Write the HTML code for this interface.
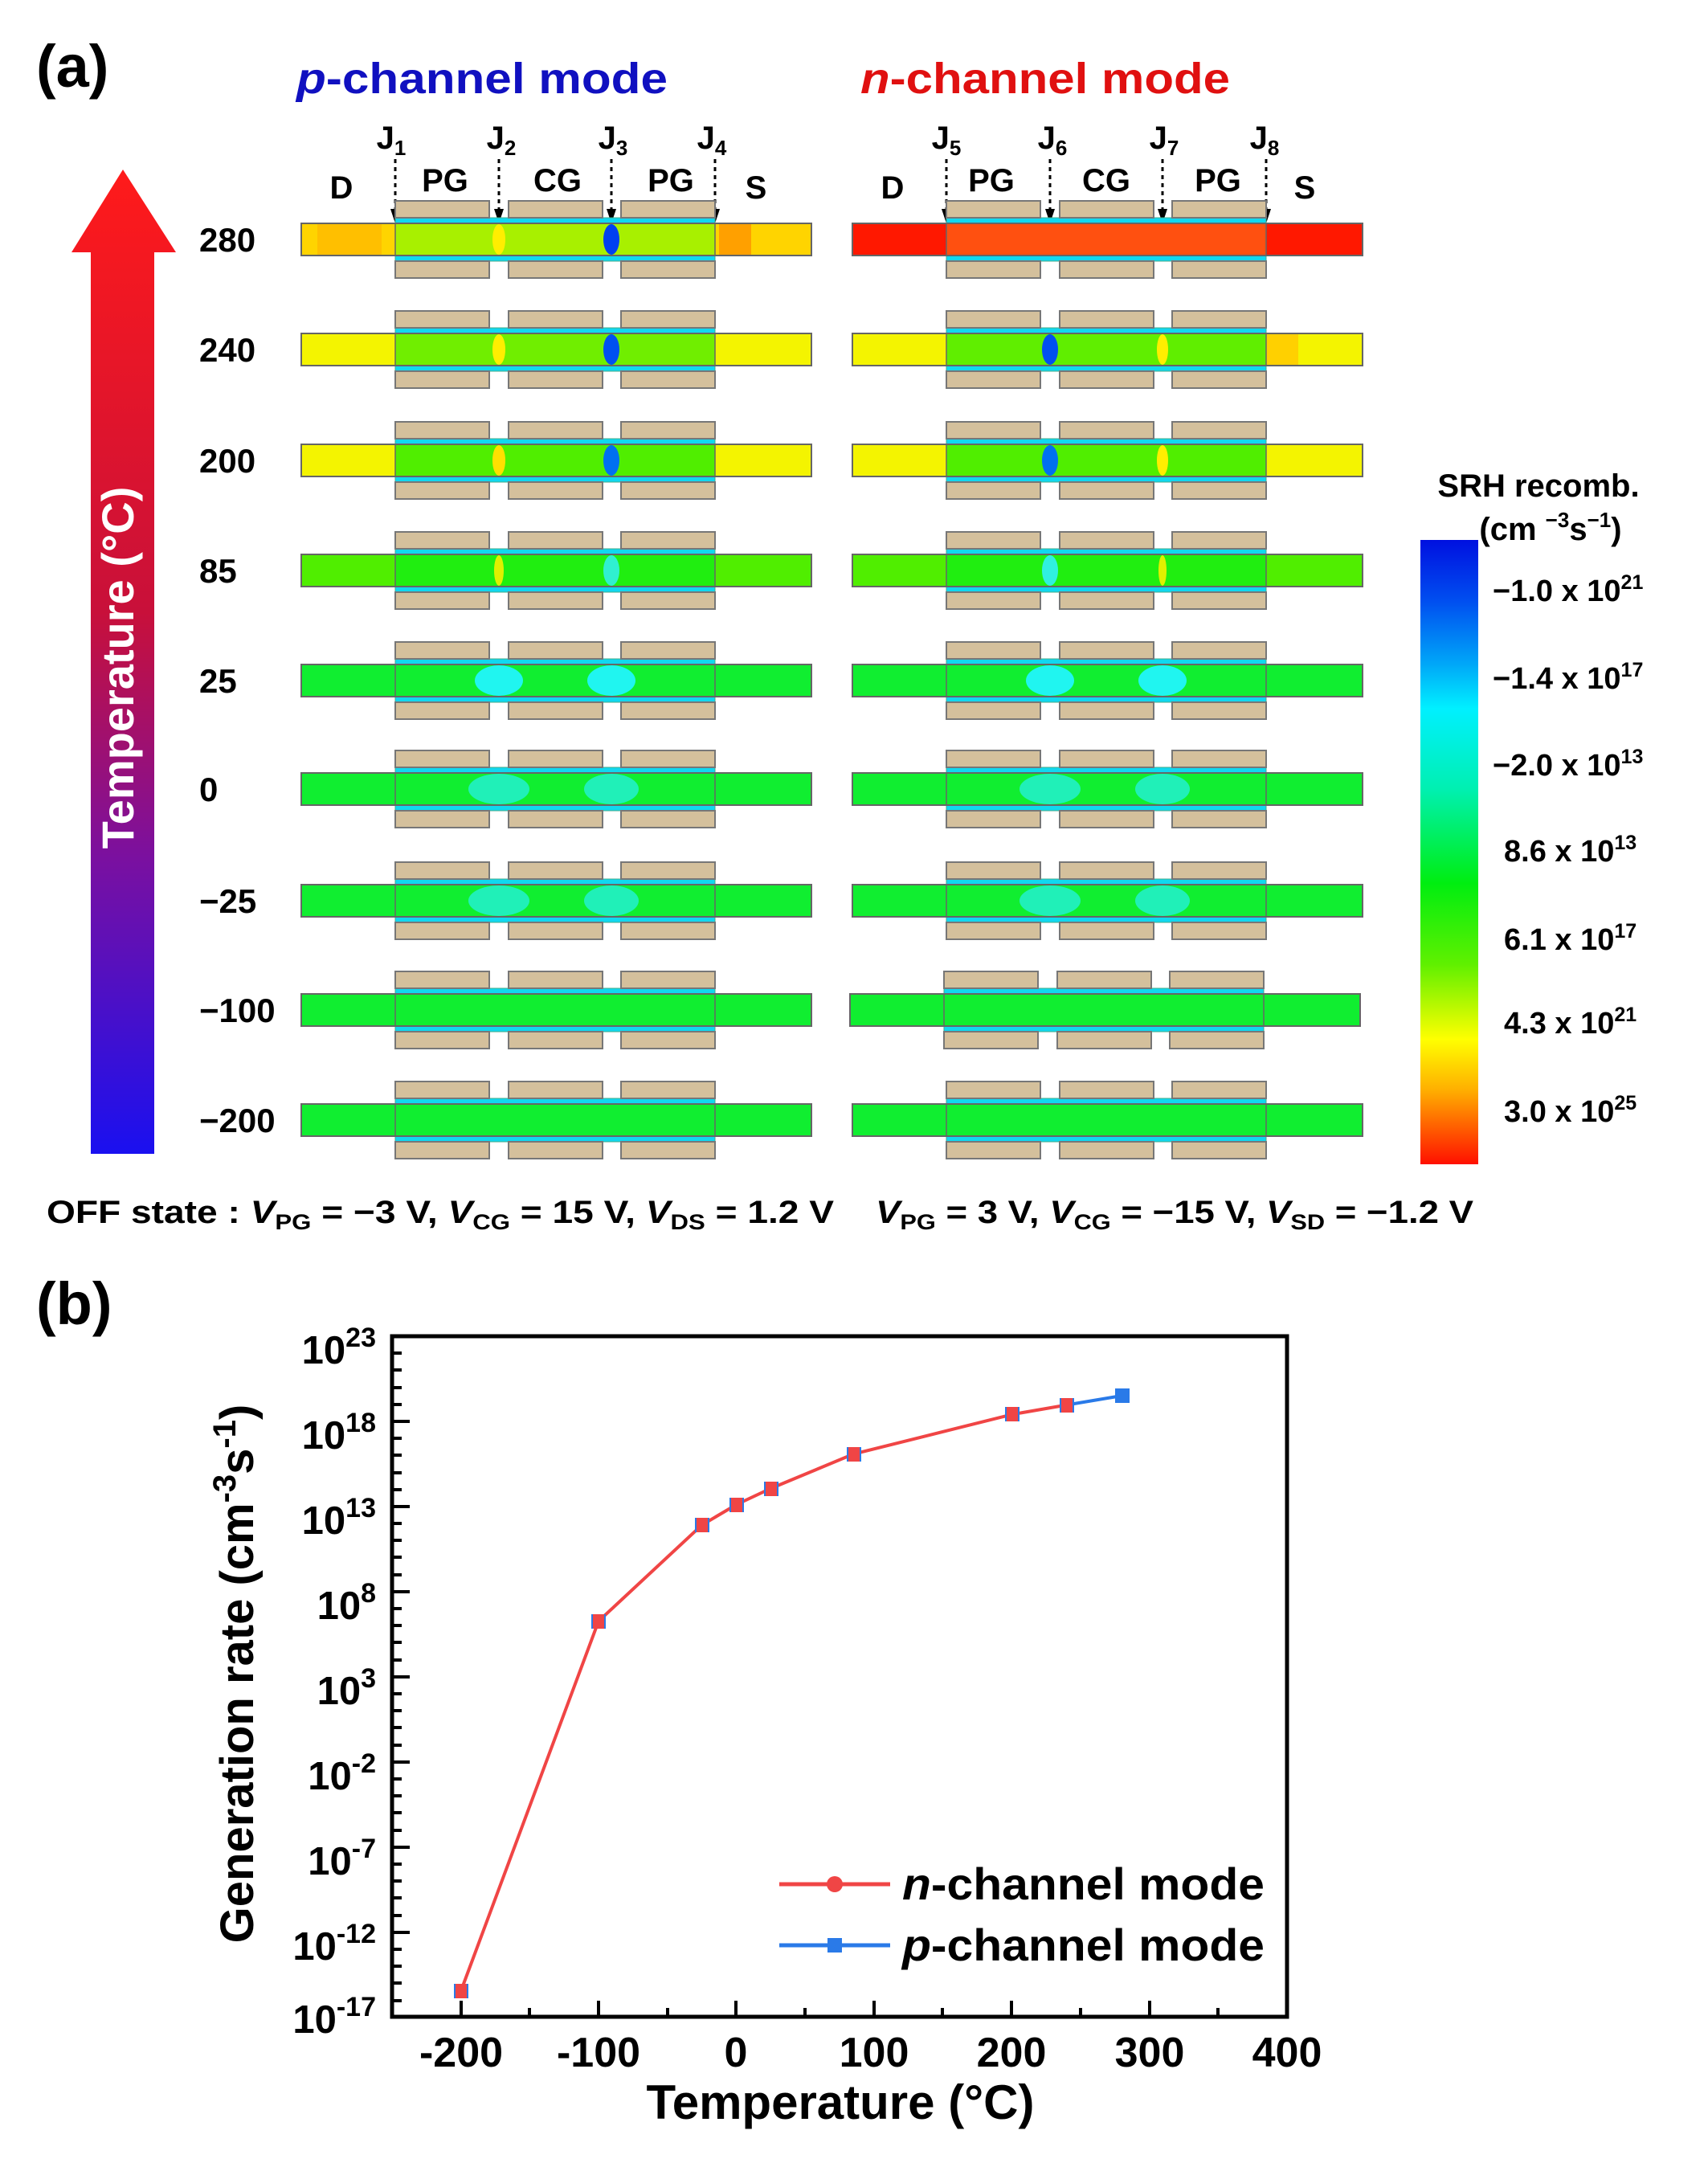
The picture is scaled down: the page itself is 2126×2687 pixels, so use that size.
<!DOCTYPE html>
<html><head><meta charset="utf-8"><style>
html,body{margin:0;padding:0;background:#fff}
svg{display:block}
text{font-family:"Liberation Sans",sans-serif;font-weight:bold}
</style></head><body>
<svg width="2126" height="2687" viewBox="0 0 2126 2687" xmlns="http://www.w3.org/2000/svg">
<defs>
<linearGradient id="arr" x1="0" y1="0" x2="0" y2="1">
<stop offset="0" stop-color="#ff1a1a"/><stop offset="0.45" stop-color="#c8103a"/><stop offset="0.7" stop-color="#7a10a0"/><stop offset="1" stop-color="#1a10f0"/>
</linearGradient>
<linearGradient id="cb" x1="0" y1="0" x2="0" y2="1">
<stop offset="0" stop-color="#0010e0"/><stop offset="0.1" stop-color="#0050f0"/><stop offset="0.2" stop-color="#00a8f8"/><stop offset="0.27" stop-color="#00f0ff"/><stop offset="0.4" stop-color="#00f0b0"/><stop offset="0.55" stop-color="#00ee10"/><stop offset="0.68" stop-color="#60f000"/><stop offset="0.8" stop-color="#ffff00"/><stop offset="0.88" stop-color="#ffb000"/><stop offset="1" stop-color="#ff1000"/>
</linearGradient>
<g id="gates">
<rect x="117" y="-27" width="398" height="7" fill="#10d8f0" stroke="#4a8" stroke-width="1"/>
<rect x="117" y="20" width="398" height="7" fill="#10d8f0" stroke="#4a8" stroke-width="1"/>
<g fill="#d4c09c" stroke="#777" stroke-width="2">
<rect x="117" y="-48" width="117" height="21"/><rect x="258" y="-48" width="117" height="21"/><rect x="398" y="-48" width="117" height="21"/>
<rect x="117" y="27" width="117" height="21"/><rect x="258" y="27" width="117" height="21"/><rect x="398" y="27" width="117" height="21"/>
</g>
<rect x="0" y="-20" width="635" height="40" fill="none" stroke="#666" stroke-width="2"/>
<line x1="117" y1="-20" x2="117" y2="20" stroke="#666" stroke-width="1.5"/>
<line x1="515" y1="-20" x2="515" y2="20" stroke="#666" stroke-width="1.5"/>
</g>
<g id="green"><rect x="0" y="-20" width="635" height="40" fill="#10ee30"/></g>
<g id="cyanblobs"><ellipse cx="246" cy="0" rx="30" ry="19" fill="#20f5f0"/><ellipse cx="386" cy="0" rx="30" ry="19" fill="#20f5f0"/></g>
<g id="cyanblobs2"><ellipse cx="246" cy="0" rx="38" ry="19" fill="#20f0b8"/><ellipse cx="386" cy="0" rx="34" ry="19" fill="#20f0b8"/></g>
</defs>

<text x="45" y="108" font-size="74">(a)</text>
<text x="369" y="116" font-size="54" fill="#1010c0" textLength="462" lengthAdjust="spacingAndGlyphs"><tspan font-style="italic">p</tspan>-channel mode</text>
<text x="1071" y="116" font-size="54" fill="#e01010" textLength="460" lengthAdjust="spacingAndGlyphs"><tspan font-style="italic">n</tspan>-channel mode</text>

<polygon points="153,211 219,314 192,314 192,1436 113,1436 113,314 89,314" fill="url(#arr)"/>
<text transform="translate(166,831) rotate(-90)" text-anchor="middle" font-size="56" fill="#fff">Temperature (°C)</text>

<g font-size="40" text-anchor="middle">
<text x="487" y="185">J<tspan font-size="26" dy="8">1</tspan></text>
<text x="624" y="185">J<tspan font-size="26" dy="8">2</tspan></text>
<text x="763" y="185">J<tspan font-size="26" dy="8">3</tspan></text>
<text x="886" y="185">J<tspan font-size="26" dy="8">4</tspan></text>
<text x="1178" y="185">J<tspan font-size="26" dy="8">5</tspan></text>
<text x="1310" y="185">J<tspan font-size="26" dy="8">6</tspan></text>
<text x="1449" y="185">J<tspan font-size="26" dy="8">7</tspan></text>
<text x="1574" y="185">J<tspan font-size="26" dy="8">8</tspan></text>
<text x="425" y="247">D</text><text x="554" y="238">PG</text><text x="694" y="238">CG</text><text x="835" y="238">PG</text><text x="941" y="247">S</text>
<text x="1111" y="247">D</text><text x="1234" y="238">PG</text><text x="1377" y="238">CG</text><text x="1516" y="238">PG</text><text x="1624" y="247">S</text>
</g>
<g stroke="#000" stroke-width="3" stroke-dasharray="5,5">
<line x1="492" y1="198" x2="492" y2="262"/><line x1="621" y1="198" x2="621" y2="262"/><line x1="761" y1="198" x2="761" y2="262"/><line x1="890" y1="198" x2="890" y2="262"/>
<line x1="1178" y1="198" x2="1178" y2="262"/><line x1="1307" y1="198" x2="1307" y2="262"/><line x1="1447" y1="198" x2="1447" y2="262"/><line x1="1576" y1="198" x2="1576" y2="262"/>
</g>
<g fill="#000">
<polygon points="486,260 498,260 492,278"/><polygon points="615,260 627,260 621,278"/><polygon points="755,260 767,260 761,278"/><polygon points="884,260 896,260 890,278"/>
<polygon points="1172,260 1184,260 1178,278"/><polygon points="1301,260 1313,260 1307,278"/><polygon points="1441,260 1453,260 1447,278"/><polygon points="1570,260 1582,260 1576,278"/>
</g>

<g font-size="42" text-anchor="start">
<text x="248" y="313">280</text><text x="248" y="450">240</text><text x="248" y="588">200</text><text x="248" y="725">85</text><text x="248" y="862">25</text><text x="248" y="997">0</text><text x="248" y="1136">−25</text><text x="248" y="1272">−100</text><text x="248" y="1409">−200</text>
</g>

<g transform="translate(375,298)">
<rect x="0" y="-20" width="117" height="40" fill="#ffd400"/><rect x="20" y="-20" width="80" height="40" fill="#ffbf00"/>
<rect x="515" y="-20" width="120" height="40" fill="#ffd400"/><rect x="520" y="-20" width="40" height="40" fill="#ffa000"/>
<rect x="117" y="-20" width="398" height="40" fill="#a8f000"/>
<ellipse cx="246" cy="0" rx="8" ry="19" fill="#ffee00"/><ellipse cx="386" cy="0" rx="10" ry="19" fill="#0040f0"/>
<use href="#gates"/></g>
<g transform="translate(375,435)">
<rect x="0" y="-20" width="117" height="40" fill="#f4f400"/><rect x="515" y="-20" width="120" height="40" fill="#f4f400"/>
<rect x="117" y="-20" width="398" height="40" fill="#70ee00"/>
<ellipse cx="246" cy="0" rx="8" ry="19" fill="#ffee00"/><ellipse cx="386" cy="0" rx="10" ry="19" fill="#0050f0"/>
<use href="#gates"/></g>
<g transform="translate(375,573)">
<rect x="0" y="-20" width="117" height="40" fill="#f4f400"/><rect x="515" y="-20" width="120" height="40" fill="#f4f400"/>
<rect x="117" y="-20" width="398" height="40" fill="#50ee00"/>
<ellipse cx="246" cy="0" rx="8" ry="19" fill="#ffe000"/><ellipse cx="386" cy="0" rx="10" ry="19" fill="#0070f0"/>
<use href="#gates"/></g>
<g transform="translate(375,710)">
<rect x="0" y="-20" width="635" height="40" fill="#50ee00"/>
<rect x="117" y="-20" width="398" height="40" fill="#20ee10"/>
<ellipse cx="246" cy="0" rx="6" ry="19" fill="#e0f000"/><ellipse cx="386" cy="0" rx="10" ry="19" fill="#30f0d0"/>
<use href="#gates"/></g>
<g transform="translate(375,847)"><use href="#green"/><use href="#cyanblobs"/><use href="#gates"/></g>
<g transform="translate(375,982)"><use href="#green"/><use href="#cyanblobs2"/><use href="#gates"/></g>
<g transform="translate(375,1121)"><use href="#green"/><use href="#cyanblobs2"/><use href="#gates"/></g>
<g transform="translate(375,1257)"><use href="#green"/><use href="#gates"/></g>
<g transform="translate(375,1394)"><use href="#green"/><use href="#gates"/></g>

<g transform="translate(1061,298)">
<rect x="0" y="-20" width="635" height="40" fill="#ff1800"/>
<rect x="117" y="-20" width="398" height="40" fill="#ff5010"/>
<use href="#gates"/></g>
<g transform="translate(1061,435)">
<rect x="0" y="-20" width="117" height="40" fill="#f4f400"/><rect x="515" y="-20" width="120" height="40" fill="#f4f400"/><rect x="515" y="-20" width="40" height="40" fill="#ffd000"/>
<rect x="117" y="-20" width="398" height="40" fill="#60ee00"/>
<ellipse cx="246" cy="0" rx="10" ry="19" fill="#0050f0"/><ellipse cx="386" cy="0" rx="7" ry="19" fill="#ffee00"/>
<use href="#gates"/></g>
<g transform="translate(1061,573)">
<rect x="0" y="-20" width="117" height="40" fill="#f4f400"/><rect x="515" y="-20" width="120" height="40" fill="#f4f400"/>
<rect x="117" y="-20" width="398" height="40" fill="#50ee00"/>
<ellipse cx="246" cy="0" rx="10" ry="19" fill="#0070f0"/><ellipse cx="386" cy="0" rx="7" ry="19" fill="#ffee00"/>
<use href="#gates"/></g>
<g transform="translate(1061,710)">
<rect x="0" y="-20" width="635" height="40" fill="#50ee00"/>
<rect x="117" y="-20" width="398" height="40" fill="#20ee10"/>
<ellipse cx="246" cy="0" rx="10" ry="19" fill="#30f0e0"/><ellipse cx="386" cy="0" rx="5" ry="19" fill="#e0f000"/>
<use href="#gates"/></g>
<g transform="translate(1061,847)"><use href="#green"/><use href="#cyanblobs"/><use href="#gates"/></g>
<g transform="translate(1061,982)"><use href="#green"/><use href="#cyanblobs2"/><use href="#gates"/></g>
<g transform="translate(1061,1121)"><use href="#green"/><use href="#cyanblobs2"/><use href="#gates"/></g>
<g transform="translate(1058,1257)"><use href="#green"/><use href="#gates"/></g>
<g transform="translate(1061,1394)"><use href="#green"/><use href="#gates"/></g>

<rect x="1768" y="672" width="72" height="777" fill="url(#cb)"/>
<text x="1915" y="618" font-size="40" text-anchor="middle">SRH recomb.</text>
<text x="1930" y="672" font-size="40" text-anchor="middle">(cm <tspan font-size="26" dy="-16">−3</tspan><tspan dy="16">s</tspan><tspan font-size="26" dy="-16">−1</tspan><tspan dy="16">)</tspan></text>
<g font-size="38">
<text x="1858" y="748">−1.0 x 10<tspan font-size="25" dy="-15">21</tspan></text>
<text x="1858" y="857">−1.4 x 10<tspan font-size="25" dy="-15">17</tspan></text>
<text x="1858" y="965">−2.0 x 10<tspan font-size="25" dy="-15">13</tspan></text>
<text x="1872" y="1072">8.6 x 10<tspan font-size="25" dy="-15">13</tspan></text>
<text x="1872" y="1182">6.1 x 10<tspan font-size="25" dy="-15">17</tspan></text>
<text x="1872" y="1286">4.3 x 10<tspan font-size="25" dy="-15">21</tspan></text>
<text x="1872" y="1396">3.0 x 10<tspan font-size="25" dy="-15">25</tspan></text>
</g>

<text x="58" y="1522" font-size="40" textLength="980" lengthAdjust="spacingAndGlyphs">OFF state :  <tspan font-style="italic">V</tspan><tspan font-size="27" dy="8">PG</tspan><tspan dy="-8"> = −3 V, </tspan><tspan font-style="italic">V</tspan><tspan font-size="27" dy="8">CG</tspan><tspan dy="-8"> = 15 V, </tspan><tspan font-style="italic">V</tspan><tspan font-size="27" dy="8">DS</tspan><tspan dy="-8"> = 1.2 V</tspan></text>
<text x="1090" y="1522" font-size="40" textLength="744" lengthAdjust="spacingAndGlyphs"><tspan font-style="italic">V</tspan><tspan font-size="27" dy="8">PG</tspan><tspan dy="-8"> = 3 V, </tspan><tspan font-style="italic">V</tspan><tspan font-size="27" dy="8">CG</tspan><tspan dy="-8"> = −15 V, </tspan><tspan font-style="italic">V</tspan><tspan font-size="27" dy="8">SD</tspan><tspan dy="-8"> = −1.2 V</tspan></text>

<text x="45" y="1648" font-size="74">(b)</text>
<rect x="488" y="1663" width="1114" height="847" fill="none" stroke="#000" stroke-width="5"/>
<g stroke="#000" stroke-width="4">
<path d="M488,1684h12M488,1705h12M488,1727h12M488,1748h12M488,1769h22M488,1790h12M488,1811h12M488,1833h12M488,1854h12M488,1875h22M488,1896h12M488,1917h12M488,1938h12M488,1960h12M488,1981h22M488,2002h12M488,2023h12M488,2044h12M488,2066h12M488,2087h22M488,2108h12M488,2129h12M488,2150h12M488,2172h12M488,2193h22M488,2214h12M488,2235h12M488,2256h12M488,2278h12M488,2299h22M488,2320h12M488,2341h12M488,2362h12M488,2384h12M488,2405h22M488,2426h12M488,2447h12M488,2468h12M488,2490h12"/>
<path d="M574,2510v-20M745,2510v-20M916,2510v-20M1088,2510v-20M1259,2510v-20M1431,2510v-20M659,2510v-11M831,2510v-11M1002,2510v-11M1173,2510v-11M1345,2510v-11M1516,2510v-11"/>
</g>
<g font-size="49" text-anchor="end">
<text x="468" y="1697">10<tspan font-size="34" dy="-21">23</tspan></text>
<text x="468" y="1803">10<tspan font-size="34" dy="-21">18</tspan></text>
<text x="468" y="1909">10<tspan font-size="34" dy="-21">13</tspan></text>
<text x="468" y="2015">10<tspan font-size="34" dy="-21">8</tspan></text>
<text x="468" y="2121">10<tspan font-size="34" dy="-21">3</tspan></text>
<text x="468" y="2227">10<tspan font-size="34" dy="-21">-2</tspan></text>
<text x="468" y="2333">10<tspan font-size="34" dy="-21">-7</tspan></text>
<text x="468" y="2439">10<tspan font-size="34" dy="-21">-12</tspan></text>
<text x="468" y="2530">10<tspan font-size="34" dy="-21">-17</tspan></text>
</g>
<g font-size="52" text-anchor="middle">
<text x="574" y="2572">-200</text><text x="745" y="2572">-100</text><text x="916" y="2572">0</text><text x="1088" y="2572">100</text><text x="1259" y="2572">200</text><text x="1431" y="2572">300</text><text x="1602" y="2572">400</text>
</g>
<text x="1046" y="2637" font-size="60" text-anchor="middle">Temperature (°C)</text>
<text transform="translate(315,2083) rotate(-90)" font-size="58" text-anchor="middle">Generation rate (cm<tspan font-size="40" dy="-22">-3</tspan><tspan dy="22">s</tspan><tspan font-size="40" dy="-22">-1</tspan><tspan dy="22">)</tspan></text>

<polyline points="1328,1748.5 1396.6,1737" fill="none" stroke="#2a7ae8" stroke-width="4"/>
<polyline points="573.7,2478 745,2017.7 873.6,1898 916.5,1872.6 959.4,1852.5 1062.3,1809.7 1259.4,1760.4 1328,1748.5" fill="none" stroke="#f04545" stroke-width="4"/>
<g fill="#2a7ae8"><rect x="565" y="2469" width="18" height="18"/><rect x="736" y="2009" width="18" height="18"/><rect x="865" y="1889" width="18" height="18"/><rect x="908" y="1864" width="18" height="18"/><rect x="951" y="1844" width="18" height="18"/><rect x="1054" y="1801" width="18" height="18"/><rect x="1251" y="1751" width="18" height="18"/><rect x="1319" y="1740" width="18" height="18"/><rect x="1388" y="1728" width="18" height="18"/></g>
<g fill="#f04545"><rect x="567" y="2469" width="14" height="18"/><rect x="738" y="2009" width="14" height="18"/><rect x="867" y="1889" width="14" height="18"/><rect x="910" y="1864" width="14" height="18"/><rect x="953" y="1844" width="14" height="18"/><rect x="1056" y="1801" width="14" height="18"/><rect x="1253" y="1751" width="14" height="18"/><rect x="1321" y="1740" width="14" height="18"/></g>

<line x1="970" y1="2345" x2="1108" y2="2345" stroke="#f04545" stroke-width="5"/>
<circle cx="1039" cy="2345" r="10" fill="#f04545"/>
<line x1="970" y1="2421" x2="1108" y2="2421" stroke="#2a7ae8" stroke-width="5"/>
<rect x="1030" y="2412" width="18" height="18" fill="#2a7ae8"/>
<text x="1123" y="2364" font-size="56" textLength="451" lengthAdjust="spacingAndGlyphs"><tspan font-style="italic">n</tspan>-channel mode</text>
<text x="1123" y="2440" font-size="56" textLength="451" lengthAdjust="spacingAndGlyphs"><tspan font-style="italic">p</tspan>-channel mode</text>
</svg>
</body></html>
